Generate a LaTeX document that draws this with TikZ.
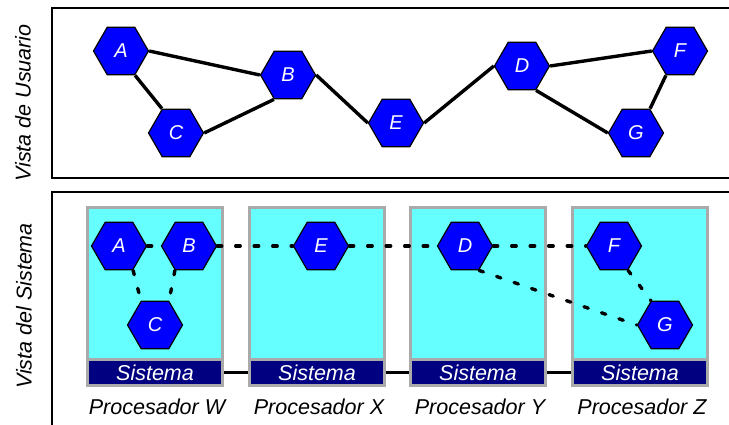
\documentclass[tikz,border=0pt]{standalone}
\usepackage{fontspec}
\setmainfont{Liberation Sans}
\usetikzlibrary{shapes.geometric}
\definecolor{hexblue}{RGB}{0,0,255}
\definecolor{proccyan}{RGB}{102,255,255}
\definecolor{sysnavy}{RGB}{0,0,128}
\definecolor{boxgray}{RGB}{170,170,170}
\pgfdeclarelayer{boxes}
\pgfdeclarelayer{links}
\pgfsetlayers{boxes,links,main}
\begin{document}
\begin{tikzpicture}[x=1pt,y=-1pt,
  hexnode/.style={regular polygon, regular polygon sides=6, minimum size=55pt,
    inner sep=0pt, fill=hexblue, draw=black, line width=1.2pt, text=white,
    font=\fontsize{20}{20}\selectfont\itshape},
  panel/.style={draw=black, line width=1.8pt},
  userlink/.style={draw=black, line width=3.4pt},
  syslink/.style={draw=black, line width=3.4pt, line cap=round, dash pattern=on 4.5pt off 14pt},
  procbox/.style={draw=boxgray, fill=proccyan, line width=3pt, minimum width=135pt,
    minimum height=178pt, inner sep=0pt},
  sysbar/.style={draw=boxgray, fill=sysnavy, line width=3pt, minimum width=135pt,
    minimum height=26pt, inner sep=0pt, text=white,
    font=\fontsize{21.5}{21.5}\selectfont\itshape},
  buslink/.style={draw=black, line width=3.2pt},
  proclabel/.style={font=\fontsize{21.5}{21.5}\selectfont\itshape},
  viewlabel/.style={rotate=90, font=\fontsize{21.5}{21.5}\selectfont\itshape}]
\useasboundingbox (0,0) rectangle (729,425);

% panel frames
\draw[panel] (730,8) -- (52,8) -- (52,178) -- (730,178);
\draw[panel] (730,192) -- (52,192) -- (52,426);
\node[viewlabel] (vu) at (23,103) {Vista de Usuario};
\node[viewlabel] (vs) at (24,306) {Vista del Sistema};

% user view graph
\node[hexnode] (uA) at (121,51) {A};
\node[hexnode] (uB) at (288,75) {B};
\node[hexnode] (uC) at (176,133) {C};
\node[hexnode] (uE) at (396,123) {E};
\node[hexnode] (uD) at (522,66) {D};
\node[hexnode] (uF) at (680,51) {F};
\node[hexnode] (uG) at (636,133) {G};
\begin{pgfonlayer}{links}
\draw[userlink] (uA.0) -- (uB.180);
\draw[userlink] (uA.-60) -- (uC.120);
\draw[userlink] (uC.0) -- (uB.-120);
\draw[userlink] (uB.0) -- (uE.180);
\draw[userlink] (uE.0) -- (uD.180);
\draw[userlink] (uD.0) -- (uF.180);
\draw[userlink] (uD.-60) -- (uG.180);
\draw[userlink] (uF.-120) -- (uG.60);
\end{pgfonlayer}

% processors with their system bars
\begin{pgfonlayer}{boxes}
\foreach \n/\cx in {W/155, X/317, Y/478, Z/640}{
  \node[procbox] (p\n) at (\cx,296.5) {};
  \node[sysbar] (s\n) at (\cx,372.5) {Sistema};
  \node[proclabel] (l\n) at (\cx+2,407) {Procesador \n};
}
\draw[buslink] (sW.east) -- (sX.west);
\draw[buslink] (sX.east) -- (sY.west);
\draw[buslink] (sY.east) -- (sZ.west);
\end{pgfonlayer}

% system view graph
\node[hexnode] (hA) at (119,246) {A};
\node[hexnode] (hB) at (189,246) {B};
\node[hexnode] (hC) at (155,325) {C};
\node[hexnode] (hE) at (321,246) {E};
\node[hexnode] (hD) at (465,246) {D};
\node[hexnode] (hF) at (614,246) {F};
\node[hexnode] (hG) at (665,325) {G};
\begin{pgfonlayer}{links}
\draw[syslink] (hA.0) -- (hB.180);
\draw[syslink] (hA.-60) -- (hC.120);
\draw[syslink] (hB.-120) -- (hC.60);
\draw[syslink] (hB.0) -- (hE.180);
\draw[syslink] (hE.0) -- (hD.180);
\draw[syslink] (hD.0) -- (hF.180);
\draw[syslink] (hD.-60) -- (hG.180);
\draw[syslink] (hF.-60) -- (hG.120);
\end{pgfonlayer}
\end{tikzpicture}
\end{document}
